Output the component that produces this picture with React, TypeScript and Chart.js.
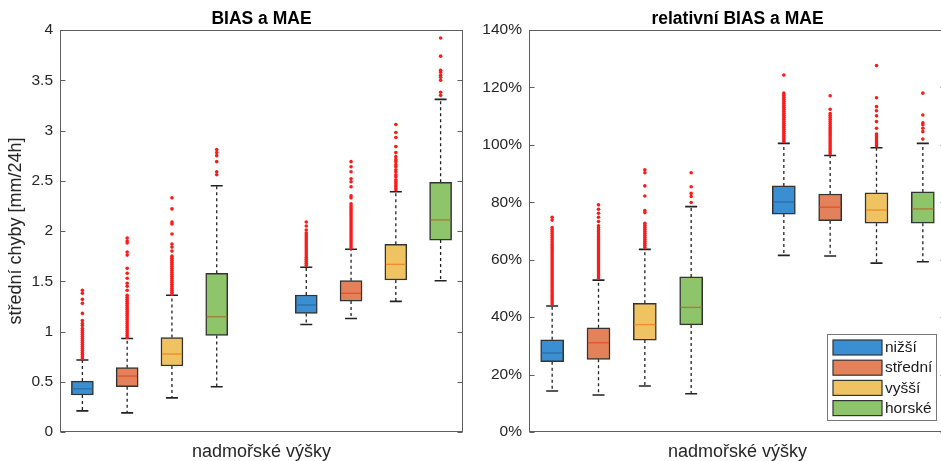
import React, { useEffect, useRef } from 'react';
import { Chart, registerables } from 'chart.js';

Chart.register(...registerables);

const FONT = '"Liberation Sans", Arial, Helvetica, sans-serif';
Chart.defaults.font.family = FONT;

// ---------- shared ----------
const seriesNames = ['nižší', 'střední', 'vyšší', 'horské'];
const seriesColors = ['#3a8fd3', '#e3825a', '#efc362', '#8ec46a'];
const medianColors = ['#2f6fa6', '#e2542c', '#f08c2c', '#a67f3c'];
const groupStarts = [0, 5];
const xLabel = 'nadmořské výšky';

// ---------- left panel: BIAS a MAE ----------
const absTitle = 'BIAS a MAE';
const absYTitle = 'střední chyby [mm/24h]';
const absTickLabels = ['0', '0.5', '1', '1.5', '2', '2.5', '3', '3.5', '4'];
const absLow = [[0.21, 1.07], [0.19, 1.13], [0.34, 1.3], [0.45, 1.505]];
const absQ1 = [[0.368, 1.18], [0.45, 1.303], [0.657, 1.512], [0.96, 1.91]];
const absMedian = [[0.43, 1.264], [0.557, 1.38], [0.776, 1.668], [1.147, 2.11]];
const absQ3 = [[0.507, 1.363], [0.64, 1.506], [0.94, 1.868], [1.58, 2.485]];
const absHigh = [[0.716, 1.64], [0.93, 1.818], [1.36, 2.39], [2.45, 3.31]];
const absOutliers = [
  [
    [0.73, 0.75, 0.77, 0.79, 0.81, 0.83, 0.85, 0.87, 0.89, 0.91, 0.93, 0.95, 0.97, 0.99, 1.01, 1.03, 1.06, 1.08, 1.11, 1.18, 1.28, 1.32, 1.38, 1.41],
    [1.66, 1.68, 1.7, 1.72, 1.74, 1.76, 1.78, 1.8, 1.82, 1.84, 1.86, 1.88, 1.9, 1.92, 1.94, 1.96, 1.98, 2.01, 2.05, 2.09],
  ],
  [
    [0.94, 0.96, 0.98, 1.0, 1.02, 1.04, 1.06, 1.08, 1.1, 1.12, 1.14, 1.16, 1.18, 1.2, 1.22, 1.24, 1.26, 1.28, 1.3, 1.32, 1.34, 1.36, 1.41, 1.45, 1.48, 1.53, 1.58, 1.63, 1.76, 1.79, 1.88, 1.9, 1.93],
    [1.83, 1.85, 1.87, 1.89, 1.91, 1.93, 1.95, 1.97, 1.99, 2.01, 2.03, 2.05, 2.07, 2.09, 2.11, 2.13, 2.15, 2.17, 2.19, 2.21, 2.23, 2.25, 2.27, 2.33, 2.35, 2.44, 2.49, 2.52, 2.59, 2.64, 2.69],
  ],
  [
    [1.37, 1.39, 1.41, 1.43, 1.45, 1.47, 1.49, 1.51, 1.53, 1.55, 1.57, 1.59, 1.61, 1.63, 1.65, 1.67, 1.69, 1.71, 1.73, 1.75, 1.8, 1.84, 1.87, 1.97, 2.07, 2.09, 2.22, 2.33],
    [2.41, 2.43, 2.45, 2.47, 2.49, 2.51, 2.54, 2.56, 2.59, 2.61, 2.64, 2.66, 2.69, 2.71, 2.74, 2.78, 2.84, 2.93, 2.98, 3.06],
  ],
  [
    [2.56, 2.59, 2.69, 2.75, 2.78, 2.81],
    [3.35, 3.38, 3.5, 3.53, 3.55, 3.58, 3.6, 3.74, 3.92],
  ],
];

// ---------- right panel: relativní BIAS a MAE ----------
const relTitle = 'relativní BIAS a MAE';
const relTickLabels = ['0%', '20%', '40%', '60%', '80%', '100%', '120%', '140%'];
const relLow = [[14.3, 61.5], [12.9, 61.3], [16, 58.8], [13.3, 59.3]];
const relQ1 = [[24.5, 75.9], [25.3, 73.6], [32, 72.7], [37.3, 72.7]];
const relMedian = [[27.5, 80.1], [31.1, 78.3], [37.4, 77.3], [43.4, 77.7]];
const relQ3 = [[32.1, 85.7], [36.3, 82.9], [44.8, 83.3], [54, 83.6]];
const relHigh = [[43.9, 100.5], [52.9, 96.3], [63.6, 99], [78.5, 100.5]];
const relOutliers = [
  [
    [44.6, 45.3, 46, 46.7, 47.4, 48.1, 48.8, 49.5, 50.2, 50.9, 51.6, 52.3, 53, 53.7, 54.4, 55.1, 55.8, 56.5, 57.2, 57.9, 58.6, 59.3, 60, 60.7, 61.4, 62.1, 62.8, 63.5, 64.2, 64.9, 65.6, 66.3, 67, 67.7, 68.4, 69.1, 69.8, 70.5, 71.2, 73.8, 74.8],
    [101.2, 101.9, 102.6, 103.3, 104, 104.7, 105.4, 106.1, 106.8, 107.5, 108.2, 108.9, 109.6, 110.3, 111, 111.7, 112.4, 113.1, 113.8, 114.5, 115.2, 115.9, 116.6, 117.3, 118, 124.3],
  ],
  [
    [53.6, 54.3, 55, 55.7, 56.4, 57.1, 57.8, 58.5, 59.2, 59.9, 60.6, 61.3, 62, 62.7, 63.4, 64.1, 64.8, 65.5, 66.2, 66.9, 67.6, 68.3, 69, 69.7, 70.4, 71.1, 71.8, 73.3, 74.8, 76.2, 77.6, 79.1],
    [96.9, 97.6, 98.3, 99, 99.7, 100.4, 101.1, 101.8, 102.5, 103.2, 103.9, 104.6, 105.3, 106, 106.7, 107.4, 108.1, 108.8, 109.5, 110.2, 110.9, 112.4, 117.1],
  ],
  [
    [64.3, 65, 65.7, 66.4, 67.1, 67.8, 68.5, 69.2, 69.9, 70.6, 71.3, 72, 72.7, 76.4, 77.1, 82.2, 85.7, 90.3, 91.3],
    [99.6, 100.3, 101, 101.7, 102.4, 103.1, 103.8, 105.8, 108.1, 110.1, 111.9, 113.3, 116.4, 127.6],
  ],
  [
    [79.9, 82, 83.1, 85.4, 90.3],
    [102, 104.6, 105.8, 107, 107.7, 110.4, 118],
  ],
];

type Panel = {
  title: string;
  yTitle: string | null;
  tickLabels: string[];
  min: number;
  max: number;
  step: number;
  low: number[][];
  q1: number[][];
  median: number[][];
  q3: number[][];
  high: number[][];
  outliers: number[][][];
  yAxisWidth: number;
  padRight: number;
  boxPx: number;
  legend: boolean;
};

const leftPanel: Panel = {
  title: absTitle, yTitle: absYTitle, tickLabels: absTickLabels, min: 0, max: 4, step: 0.5,
  low: absLow, q1: absQ1, median: absMedian, q3: absQ3, high: absHigh, outliers: absOutliers,
  yAxisWidth: 60, padRight: 7, boxPx: 22, legend: false,
};
const rightPanel: Panel = {
  title: relTitle, yTitle: null, tickLabels: relTickLabels, min: 0, max: 140, step: 20,
  low: relLow, q1: relQ1, median: relMedian, q3: relQ3, high: relHigh, outliers: relOutliers,
  yAxisWidth: 59, padRight: 3.5, boxPx: 23, legend: true,
};

function buildConfig(p: Panel): any {
  const datasets: any[] = [];
  seriesNames.forEach((name, i) => {
    datasets.push({
      type: 'bar',
      label: name,
      data: groupStarts.map((g, j) => ({ x: g + i + 1, y: [p.q1[i][j], p.q3[i][j]] })),
      backgroundColor: seriesColors[i],
      borderColor: '#333333',
      borderWidth: 1.5,
      borderSkipped: false,
      barThickness: p.boxPx,
      grouped: false,
      order: 2,
    });
  });
  const pts: { x: number; y: number }[] = [];
  p.outliers.forEach((row, i) =>
    row.forEach((vals, j) => vals.forEach((v) => pts.push({ x: groupStarts[j] + i + 1, y: v })))
  );
  datasets.push({
    type: 'scatter',
    label: 'outliers',
    data: pts,
    pointRadius: 1.8,
    pointBackgroundColor: '#ff1a1a',
    pointBorderWidth: 0,
    pointBorderColor: '#ff1a1a',
    order: 1,
  });

  const parts = {
    id: 'boxParts',
    beforeDatasetsDraw(chart: any) {
      const ctx = chart.ctx;
      const xs = chart.scales.x;
      const ys = chart.scales.y;
      ctx.save();
      seriesNames.forEach((_, i) => {
        groupStarts.forEach((g, j) => {
          const cx = xs.getPixelForValue(g + i + 1);
          ctx.strokeStyle = '#222';
          ctx.lineWidth = 1.3;
          ctx.setLineDash([3, 3]);
          ctx.beginPath();
          ctx.moveTo(cx, ys.getPixelForValue(p.q3[i][j]));
          ctx.lineTo(cx, ys.getPixelForValue(p.high[i][j]));
          ctx.moveTo(cx, ys.getPixelForValue(p.q1[i][j]));
          ctx.lineTo(cx, ys.getPixelForValue(p.low[i][j]));
          ctx.stroke();
          ctx.setLineDash([]);
          ctx.lineWidth = 1.6;
          ctx.beginPath();
          for (const v of [p.high[i][j], p.low[i][j]]) {
            const y = ys.getPixelForValue(v);
            ctx.moveTo(cx - 6, y);
            ctx.lineTo(cx + 6, y);
          }
          ctx.stroke();
        });
      });
      ctx.restore();
    },
    afterDatasetsDraw(chart: any) {
      const ctx = chart.ctx;
      const xs = chart.scales.x;
      const ys = chart.scales.y;
      ctx.save();
      seriesNames.forEach((_, i) => {
        groupStarts.forEach((g, j) => {
          const cx = xs.getPixelForValue(g + i + 1);
          const y = ys.getPixelForValue(p.median[i][j]);
          ctx.strokeStyle = medianColors[i];
          ctx.lineWidth = 1.4;
          ctx.beginPath();
          ctx.moveTo(cx - p.boxPx / 2 + 1, y);
          ctx.lineTo(cx + p.boxPx / 2 - 1, y);
          ctx.stroke();
        });
      });
      ctx.restore();
    },
    afterDraw(chart: any) {
      const ctx = chart.ctx;
      const a = chart.chartArea;
      const ys = chart.scales.y;
      ctx.save();
      ctx.strokeStyle = '#5e5e5e';
      ctx.lineWidth = 1;
      const l = Math.round(a.left) + 0.5;
      const t = Math.round(a.top) + 0.5;
      const r = Math.round(a.right) - 0.5;
      const b = Math.round(a.bottom) - 0.5;
      ctx.strokeRect(l, t, r - l, b - t);
      ctx.beginPath();
      ys.ticks.forEach((tk: any) => {
        const y = Math.round(ys.getPixelForValue(tk.value)) + 0.5;
        ctx.moveTo(l, y);
        ctx.lineTo(l + 5, y);
        ctx.moveTo(r, y);
        ctx.lineTo(r - 5, y);
      });
      ctx.stroke();

      if (p.legend) {
        const bx = 357.5, by = 334.5, bw = 109, bh = 86;
        ctx.fillStyle = '#ffffff';
        ctx.fillRect(bx, by, bw, bh);
        ctx.strokeStyle = '#777';
        ctx.strokeRect(bx, by, bw, bh);
        ctx.font = '15.5px ' + FONT;
        ctx.textBaseline = 'middle';
        ctx.textAlign = 'left';
        seriesNames.forEach((name, i) => {
          const cy = 347.5 + i * 20.2;
          ctx.fillStyle = seriesColors[i];
          ctx.fillRect(363, cy - 7.5, 49, 15);
          ctx.strokeStyle = '#333333';
          ctx.lineWidth = 1.2;
          ctx.strokeRect(363, cy - 7.5, 49, 15);
          ctx.fillStyle = '#1a1a1a';
          ctx.fillText(name, 415, cy + 0.5);
        });
      }
      ctx.restore();
    },
  };

  return {
    type: 'bar',
    data: { datasets },
    plugins: [parts],
    options: {
      responsive: false,
      animation: false,
      devicePixelRatio: 1,
      layout: { padding: { left: 0, right: p.padRight, top: 0, bottom: 0 } },
      plugins: {
        legend: { display: false },
        tooltip: { enabled: false },
        title: {
          display: true,
          text: p.title,
          fullSize: false,
          color: '#000',
          font: { family: FONT, size: 17.5, weight: 'bold', lineHeight: 1 },
          padding: { top: 10, bottom: 2.5 },
        },
      },
      scales: {
        x: {
          type: 'linear',
          min: 0.5,
          max: 9.5,
          offset: false,
          grid: { display: false, drawTicks: false },
          border: { display: false },
          ticks: { display: false },
          title: {
            display: true,
            text: xLabel,
            color: '#262626',
            font: { family: FONT, size: 18, lineHeight: 1 },
            padding: { top: 0, bottom: 0 },
          },
          afterFit: (s: any) => { s.height = 29; },
        },
        y: {
          type: 'linear',
          min: p.min,
          max: p.max,
          grid: { display: false, drawTicks: false },
          border: { display: false },
          ticks: {
            stepSize: p.step,
            padding: 7,
            color: '#262626',
            font: { family: FONT, size: 15.5 },
            callback: (v: number) => p.tickLabels[Math.round((v - p.min) / p.step)],
          },
          title: p.yTitle
            ? {
                display: true,
                text: p.yTitle,
                color: '#262626',
                font: { family: FONT, size: 18, lineHeight: 1 },
                padding: { top: 7, bottom: 0 },
              }
            : { display: false },
          afterFit: (s: any) => { s.width = p.yAxisWidth; },
        },
      },
    },
  };
}

function PanelChart({ panel, width, height }: { panel: Panel; width: number; height: number }) {
  const ref = useRef<HTMLCanvasElement | null>(null);
  useEffect(() => {
    if (!ref.current) return;
    const chart = new Chart(ref.current, buildConfig(panel));
    return () => chart.destroy();
  }, [panel]);
  return <canvas ref={ref} width={width} height={height} style={{ display: 'block', width, height }} />;
}

export default function App() {
  return (
    <div style={{ position: 'absolute', left: 0, top: 0, width: 941, height: 461, background: '#fff', overflow: 'hidden' }}>
      <div style={{ position: 'absolute', left: 0, top: 0, width: 470, height: 461 }}>
        <PanelChart panel={leftPanel} width={470} height={461} />
      </div>
      <div style={{ position: 'absolute', left: 470, top: 0, width: 471, height: 461, overflow: 'hidden' }}>
        <PanelChart panel={rightPanel} width={480} height={461} />
      </div>
    </div>
  );
}
